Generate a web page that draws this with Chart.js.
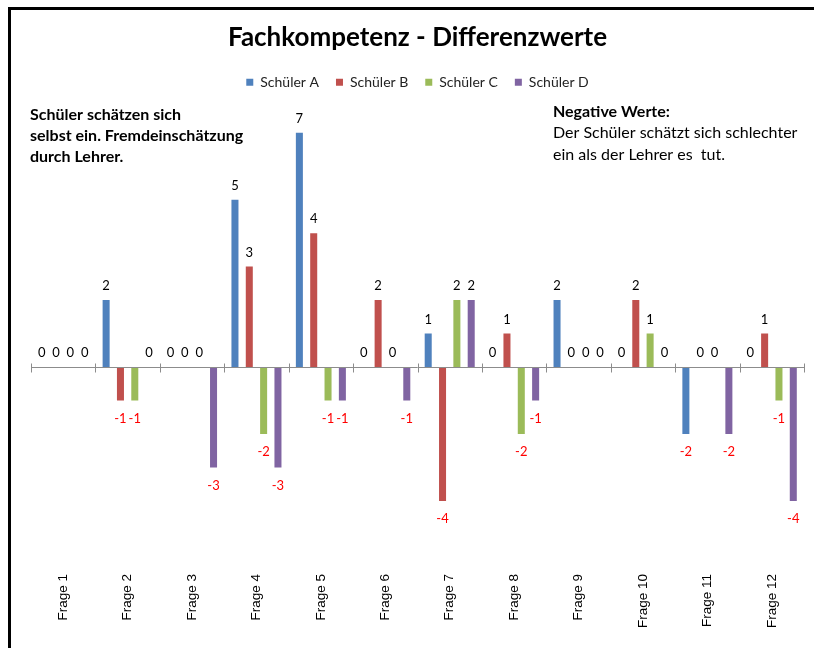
<!DOCTYPE html>
<html>
<head>
<meta charset="utf-8">
<title>Fachkompetenz - Differenzwerte</title>
<script src="https://cdn.jsdelivr.net/npm/chart.js@4/dist/chart.umd.min.js"></script>
<style>
    html, body { margin: 0; padding: 0; background: #fff; }
    #wrap { width: 814px; height: 648px; position: relative; }
</style>
</head>
<body>
<div id="wrap"><canvas id="chart" width="814" height="648"></canvas></div>
<script>
// Categories and values (difference self vs. teacher rating)
const categories = ['Frage 1', 'Frage 2', 'Frage 3', 'Frage 4', 'Frage 5', 'Frage 6',
    'Frage 7', 'Frage 8', 'Frage 9', 'Frage 10', 'Frage 11', 'Frage 12'];
const seriesNames = ['Schüler A', 'Schüler B', 'Schüler C', 'Schüler D'];
const schuelerA = [0, 2, 0, 5, 7, 0, 1, 0, 2, 0, -2, 0];
const schuelerB = [0, -1, 0, 3, 4, 2, -4, 1, 0, 2, 0, 1];
const schuelerC = [0, -1, 0, -2, -1, 0, 2, -2, 0, 1, 0, -1];
const schuelerD = [0, 0, -3, -3, -1, -1, 2, -1, 0, 0, -2, -4];
const colors = ['#4F81BD', '#C0504D', '#9BBB59', '#8064A2'];

const noteLeft = ['Schüler schätzen sich', 'selbst ein. Fremdeinschätzung', 'durch Lehrer.'];
const noteRightHead = 'Negative Werte:';
const noteRight = ['Der Schüler schätzt sich schlechter', 'ein als der Lehrer es  tut.'];

// Frame + background, text notes
const framePlugin = {
    id: 'frame',
    beforeDraw(chart) {
        const ctx = chart.ctx;
        ctx.save();
        ctx.fillStyle = '#fff';
        ctx.fillRect(0, 0, chart.width, chart.height);
        ctx.strokeStyle = '#000';
        ctx.lineWidth = 3;
        ctx.beginPath();
        ctx.moveTo(9.5, chart.height);
        ctx.lineTo(9.5, 8.5);
        ctx.lineTo(chart.width, 8.5);
        ctx.stroke();
        ctx.restore();
    },
    afterDraw(chart) {
        const ctx = chart.ctx;
        ctx.save();
        ctx.fillStyle = '#000';
        ctx.textBaseline = 'alphabetic';
        ctx.font = 'bold 16px Lato';
        noteLeft.forEach((t, i) => ctx.fillText(t, 30, 120 + i * 21));
        ctx.fillText(noteRightHead, 553, 117);
        ctx.font = '16px Lato';
        noteRight.forEach((t, i) => ctx.fillText(t, 553, 138 + i * 22));
        ctx.restore();
    }
};

// Zero line with crossing tick marks
const zeroAxisPlugin = {
    id: 'zeroAxis',
    afterDatasetsDraw(chart) {
        const ctx = chart.ctx;
        const x = chart.scales.x;
        const y0 = Math.round(chart.scales.y.getPixelForValue(0)) + 0.5;
        const step = (x.right - x.left) / categories.length;
        ctx.save();
        ctx.strokeStyle = '#8c8c8c';
        ctx.lineWidth = 1;
        ctx.beginPath();
        ctx.moveTo(x.left, y0);
        ctx.lineTo(x.right, y0);
        for (let i = 0; i <= categories.length; i++) {
            const tx = Math.round(x.left + i * step) + 0.5;
            ctx.moveTo(tx, y0 - 4);
            ctx.lineTo(tx, y0 + 5);
        }
        ctx.stroke();
        ctx.restore();
    }
};

// Value labels: black above, red below
const valueLabelPlugin = {
    id: 'valueLabels',
    afterDatasetsDraw(chart) {
        const ctx = chart.ctx;
        ctx.save();
        ctx.font = '13px Lato';
        ctx.textAlign = 'center';
        ctx.textBaseline = 'middle';
        chart.data.datasets.forEach((ds, di) => {
            const meta = chart.getDatasetMeta(di);
            meta.data.forEach((bar, i) => {
                const v = ds.data[i];
                if (v < 0) {
                    ctx.fillStyle = '#FF0000';
                    ctx.fillText(String(v), bar.x, bar.y + 18);
                } else {
                    ctx.fillStyle = '#000';
                    ctx.fillText(String(v), bar.x, bar.y - 14);
                }
            });
        });
        ctx.restore();
    }
};

const seriesData = [schuelerA, schuelerB, schuelerC, schuelerD];

new Chart(document.getElementById('chart'), {
    type: 'bar',
    data: {
        labels: categories,
        datasets: seriesNames.map((name, i) => ({
            label: name,
            data: seriesData[i],
            backgroundColor: colors[i],
            borderWidth: 0,
            categoryPercentage: 0.89,
            barPercentage: 0.49
        }))
    },
    options: {
        responsive: false,
        animation: false,
        layout: { padding: { left: 31, right: 10, top: 6, bottom: 14 } },
        plugins: {
            title: {
                display: true,
                text: 'Fachkompetenz - Differenzwerte',
                color: '#000',
                font: { family: 'Lato', size: 26, weight: 'bold' },
                padding: { top: 16, bottom: 5 }
            },
            legend: {
                display: true,
                position: 'top',
                labels: {
                    boxWidth: 7,
                    boxHeight: 7,
                    padding: 17,
                    color: '#222',
                    font: { family: 'Lato', size: 14 }
                }
            },
            tooltip: { enabled: false }
        },
        scales: {
            x: {
                grid: { display: false, drawTicks: false },
                border: { display: false },
                ticks: {
                    minRotation: 90,
                    maxRotation: 90,
                    padding: 6,
                    color: '#000',
                    font: { family: 'Liberation Sans', size: 13.5 }
                }
            },
            y: {
                display: false,
                min: -6,
                max: 8
            }
        }
    },
    plugins: [framePlugin, zeroAxisPlugin, valueLabelPlugin]
});
</script>
</body>
</html>
